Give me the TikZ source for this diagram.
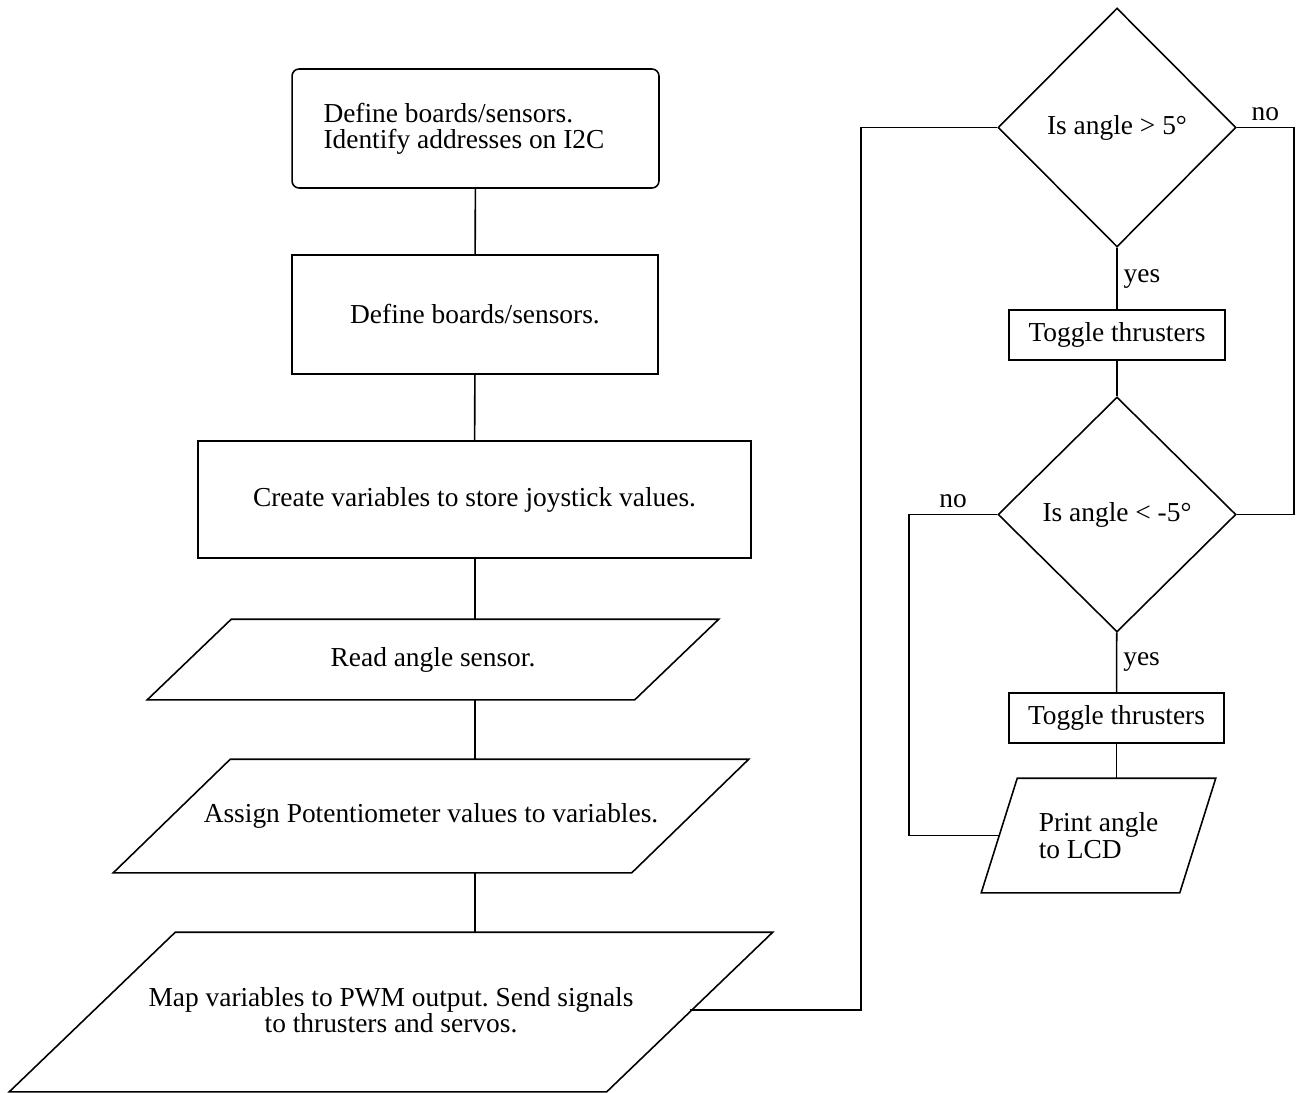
\documentclass[tikz,border=0pt]{standalone}
\usepackage{fontspec}
\setmainfont{Liberation Serif}
\usetikzlibrary{shapes.geometric}
\frenchspacing

\begin{document}
\begin{tikzpicture}[x=0.02cm, y=-0.02cm, line width=0.9pt,
    every node/.style={font=\fontsize{15.6}{15}\selectfont},
    block/.style={draw, rectangle, inner sep=0pt},
    inout/.style={rectangle, inner sep=0pt},
    decision/.style={draw, diamond, aspect=1, inner sep=0pt}]
  \useasboundingbox (0,0) rectangle (1297,1092);
  \node[block, rounded corners=4pt, minimum width=7.34cm, minimum height=2.38cm, text width=6.08cm, align=flush left]
    (init) at (475.5,128.5) {Define boards/sensors.\\Identify addresses on I2C};
  \node[block, minimum width=7.32cm, minimum height=2.38cm] (define) at (475,314.5) {Define boards/sensors.};
  \node[block, minimum width=11.06cm, minimum height=2.34cm] (vars) at (474.5,499.5) {Create variables to store joystick values.};
  \node[inout, minimum width=11.4cm, minimum height=1.58cm] (read) at (433,659.5) {Read angle sensor.};
  \node[inout, minimum width=12.68cm, minimum height=2.24cm] (assign) at (431,816) {Assign Potentiometer values to variables.};
  \node[inout, minimum width=15.24cm, minimum height=3.16cm, align=center]
    (map) at (391,1010) {Map variables to PWM output. Send signals\\to thrusters and servos.};
  \node[decision, minimum width=4.76cm, minimum height=4.78cm] (q1) at (1117,127.5) {Is angle > 5°};
  \node[block, minimum width=4.32cm, minimum height=1.0cm] (toggle1) at (1117,335) {Toggle thrusters};
  \node[decision, minimum width=4.76cm, minimum height=4.70cm] (q2) at (1117,514.5) {Is angle < -5°};
  \node[block, minimum width=4.30cm, minimum height=1.0cm] (toggle2) at (1116.5,718) {Toggle thrusters};
  \node[inout, minimum width=4.66cm, minimum height=2.26cm, align=flush left]
    (print) at (1098.5,835.5) {Print angle\\to LCD};
  \draw ([xshift=1.68cm]read.north west) -- (read.north east) -- ([xshift=-1.68cm]read.south east) -- (read.south west) -- cycle;
  \draw ([xshift=2.34cm]assign.north west) -- (assign.north east) -- ([xshift=-2.34cm]assign.south east) -- (assign.south west) -- cycle;
  \draw ([xshift=3.32cm,yshift=-0.04cm]map.north west) -- ([yshift=-0.04cm]map.north east) -- ([xshift=-3.32cm,yshift=-0.04cm]map.south east) -- ([yshift=-0.04cm]map.south west) -- cycle;
  \draw ([xshift=0.72cm]print.north west) -- (print.north east) -- ([xshift=-0.72cm]print.south east) -- (print.south west) -- cycle;
  \coordinate (spine) at (475,0);
  \coordinate (jog) at (861,0);
  \coordinate (rjog) at (1294,0);
  \coordinate (ljog) at (909,0);
  \begin{scope}[-]
    \draw (init) -- (define);
    \draw (define) -- (vars);
    \draw (spine |- vars.south) -- (spine |- read.north);
    \draw (spine |- read.south) -- (spine |- assign.north);
    \draw (spine |- assign.south) -- ([yshift=-0.04cm]spine |- map.north);
    \draw ([xshift=-1.66cm]map.east) -| (jog |- q1.west) -- (q1.west);
    \draw (q1.east) -- node[above]{no} (q1.east -| rjog) |- (q2.east);
    \draw (q1) -- node[right]{yes} (toggle1);
    \draw (toggle1) -- (q2);
    \draw (q2.west) -- node[above]{no} (q2.west -| ljog) |- ([xshift=0.36cm]print.west);
    \draw (q2) -- node[right]{yes} (toggle2);
    \draw (toggle2.south) -- (toggle2.south |- print.north);
  \end{scope}
\end{tikzpicture}
\end{document}
